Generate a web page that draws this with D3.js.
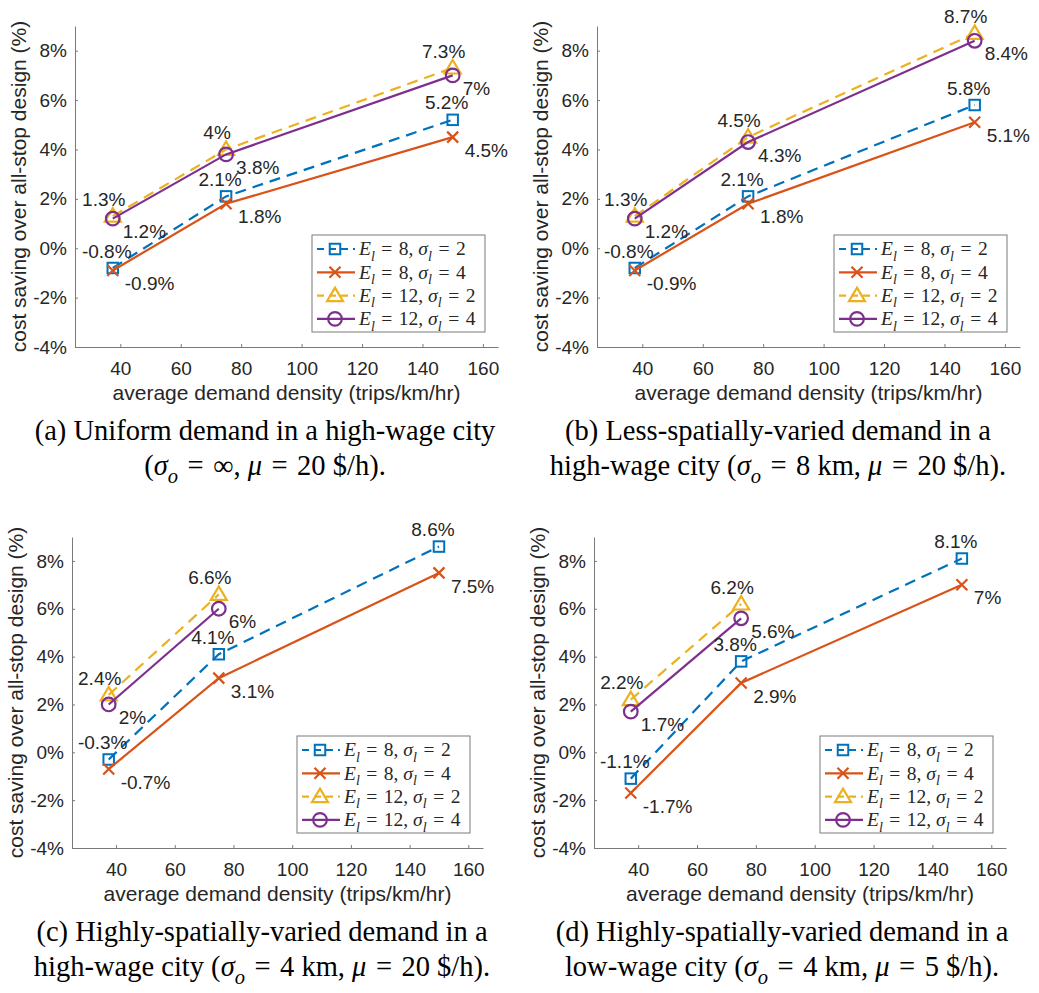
<!DOCTYPE html>
<meta charset="utf-8">
<style>
  body { margin:0; background:#fff; }
  .tick text, .lbl { fill:#262626; }
</style>
<svg width="1039" height="993"></svg>
<script src="https://cdn.jsdelivr.net/npm/d3@7"></script>
<script>

// demand density on the x axis (trips/km/hr)
var density = [37.5, 75, 150];
var xTicks = [40, 60, 80, 100, 120, 140, 160];
var yTicks = [-4, -2, 0, 2, 4, 6, 8];

// legend: E_l and sigma_l of each series
var legendE = [8, 8, 12, 12];
var legendSigma = [2, 4, 2, 4];

// cost saving (%) per series, one array per panel
var savingA = [[-0.8, 2.1, 5.2], [-0.9, 1.8, 4.5], [1.3, 4, 7.3], [1.2, 3.8, 7]];
var savingB = [[-0.8, 2.1, 5.8], [-0.9, 1.8, 5.1], [1.3, 4.5, 8.7], [1.2, 4.3, 8.4]];
var savingC = [[-0.3, 4.1, 8.6], [-0.7, 3.1, 7.5], [2.4, 6.6], [2, 6]];
var savingD = [[-1.1, 3.8, 8.1], [-1.7, 2.9, 7], [2.2, 6.2], [1.7, 5.6]];

var captionA = ["(a) Uniform demand in a high-wage city", "(σ_o = ∞, μ = 20 $/h)."];
var captionB = ["(b) Less-spatially-varied demand in a", "high-wage city (σ_o = 8 km, μ = 20 $/h)."];
var captionC = ["(c) Highly-spatially-varied demand in a", "high-wage city (σ_o = 4 km, μ = 20 $/h)."];
var captionD = ["(d) Highly-spatially-varied demand in a", "low-wage city (σ_o = 4 km, μ = 5 $/h)."];

var xTitle = "average demand density (trips/km/hr)";
var yTitle = "cost saving over all-stop design (%)";

var colors = ["#0072BD", "#D95319", "#EDB120", "#7E2F8E"];
var dashed = [true, false, true, false];
var markerType = ["square", "x", "triangle", "circle"];
var axisColor = "#7a7a7a";
var sans = "'Liberation Sans', Arial, sans-serif";
var serif = "'Liberation Serif', 'Times New Roman', serif";

var panels = [
  {data: savingA, caption: captionA, left: 75, right: 498, top: 26, bottom: 347, cx: 265, cy: 440},
  {data: savingB, caption: captionB, left: 597, right: 1020, top: 26, bottom: 347, cx: 778, cy: 440},
  {data: savingC, caption: captionC, left: 72, right: 483, top: 537, bottom: 848, cx: 262, cy: 941},
  {data: savingD, caption: captionD, left: 594, right: 1006, top: 537, bottom: 848, cx: 782, cy: 941}
];

var svg = d3.select("svg");

// text with italic letters and subscripts: "E_l", Greek letters
function richText(sel, str, size) {
  var re = /([A-Za-z\u03b1-\u03c9])_([a-z])|([\u03b1-\u03c9])/g;
  var last = 0, m, shift = 0, sub = size * 0.28;
  function plain(t) {
    var ts = sel.append("tspan").text(t);
    if (shift) { ts.attr("dy", -shift); shift = 0; }
  }
  while ((m = re.exec(str))) {
    if (m.index > last) plain(str.slice(last, m.index));
    if (m[1]) {
      var ts = sel.append("tspan").attr("font-style", "italic").text(m[1]);
      if (shift) { ts.attr("dy", -shift); shift = 0; }
      sel.append("tspan").attr("font-style", "italic").attr("font-size", size * 0.72)
        .attr("dy", sub).text(m[2]);
      shift = sub;
    } else {
      var tg = sel.append("tspan").attr("font-style", "italic").text(m[3]);
      if (shift) { tg.attr("dy", -shift); shift = 0; }
    }
    last = re.lastIndex;
  }
  if (last < str.length) plain(str.slice(last));
}

function drawMarker(g, type, x, y, color) {
  if (type == "square") {
    g.append("rect").attr("x", x - 5.25).attr("y", y - 5.25).attr("width", 10.5).attr("height", 10.5)
      .attr("fill", "none").attr("stroke", color).attr("stroke-width", 2);
  } else if (type == "x") {
    g.append("path").attr("d", "M" + (x - 5.5) + "," + (y - 5.5) + "L" + (x + 5.5) + "," + (y + 5.5) +
      "M" + (x - 5.5) + "," + (y + 5.5) + "L" + (x + 5.5) + "," + (y - 5.5))
      .attr("stroke", color).attr("stroke-width", 2.2);
  } else if (type == "triangle") {
    g.append("path").attr("d", "M" + x + "," + (y - 8) + "L" + (x + 8) + "," + (y + 5.5) + "L" + (x - 8) + "," + (y + 5.5) + "Z")
      .attr("fill", "none").attr("stroke", color).attr("stroke-width", 2.2);
  } else {
    g.append("circle").attr("cx", x).attr("cy", y).attr("r", 6.8)
      .attr("fill", "none").attr("stroke", color).attr("stroke-width", 2.2);
  }
}

panels.forEach(function(p) {
  var x = d3.scaleLinear().domain([25, 165]).range([p.left, p.right]);
  var y = d3.scaleLinear().domain([-4, 9]).range([p.bottom, p.top]);
  var g = svg.append("g");

  var xAxis = g.append("g").attr("transform", "translate(0," + p.bottom + ")")
    .call(d3.axisBottom(x).tickValues(xTicks).tickSizeInner(-3).tickSizeOuter(0).tickPadding(15));
  var yAxis = g.append("g").attr("transform", "translate(" + p.left + ",0)")
    .call(d3.axisLeft(y).tickValues(yTicks).tickSizeInner(-3).tickSizeOuter(0).tickPadding(8)
      .tickFormat(function(d) { return d + "%"; }));
  [xAxis, yAxis].forEach(function(a) {
    a.selectAll("path, line").attr("stroke", axisColor);
    a.selectAll("text").attr("font-family", sans).attr("font-size", 19);
  });

  g.append("text").attr("class", "lbl")
    .attr("x", (p.left + p.right) / 2).attr("y", p.bottom + 53)
    .attr("text-anchor", "middle").attr("font-family", sans).attr("font-size", 21)
    .text(xTitle);
  g.append("text").attr("class", "lbl")
    .attr("transform", "translate(" + (p.left - 49) + "," + ((p.top + p.bottom) / 2) + ")rotate(-90)")
    .attr("text-anchor", "middle").attr("font-family", sans).attr("font-size", 21)
    .text(yTitle);

  var line = d3.line().x(function(d, i) { return x(density[i]); }).y(function(d) { return y(d); });

  p.data.forEach(function(s, k) {
    g.append("path").datum(s).attr("d", line).attr("fill", "none")
      .attr("stroke", colors[k]).attr("stroke-width", 2.2)
      .attr("stroke-dasharray", dashed[k] ? "11,7" : null);
    s.forEach(function(v, i) { drawMarker(g, markerType[k], x(density[i]), y(v), colors[k]); });
  });

  // value labels: dashed series above-left, solid series below-right
  p.data.forEach(function(s, k) {
    s.forEach(function(v, i) {
      var above = dashed[k];
      g.append("text").attr("class", "lbl")
        .attr("x", x(density[i]) + (above ? (k == 0 ? -6 : -9) : (k == 1 ? 12 : 10)))
        .attr("y", y(v) + (above ? -17 : 13))
        .attr("dy", "0.35em")
        .attr("text-anchor", above ? "middle" : "start")
        .attr("font-family", sans).attr("font-size", 19)
        .text(v + "%");
    });
  });

  // legend, bottom right inside the axes
  var lw = 173, lh = 97;
  var leg = g.append("g").attr("transform", "translate(" + (p.right - 13 - lw) + "," + (p.bottom - 15 - lh) + ")");
  leg.append("rect").attr("width", lw).attr("height", lh).attr("fill", "#fff")
    .attr("stroke", axisColor).attr("stroke-width", 1);
  legendE.forEach(function(e, k) {
    var ry = 14 + k * 23.3;
    leg.append("line").attr("x1", 5).attr("x2", 43).attr("y1", ry).attr("y2", ry)
      .attr("stroke", colors[k]).attr("stroke-width", 2.2)
      .attr("stroke-dasharray", dashed[k] ? "7,5" : null);
    drawMarker(leg, markerType[k], 23, ry, colors[k]);
    var t = leg.append("text").attr("class", "lbl").attr("x", 47).attr("y", ry).attr("dy", "0.33em")
      .attr("font-family", serif).attr("font-size", 19.5);
    richText(t, ("E_l = " + e + ", σ_l = " + legendSigma[k]).replace(/ = /g, "\u2004=\u2004"), 19.5);
  });

  // caption below the panel
  p.caption.forEach(function(c, i) {
    var t = svg.append("text").attr("class", "lbl").attr("x", p.cx).attr("y", p.cy + i * 35)
      .attr("text-anchor", "middle").attr("font-family", serif).attr("font-size", 28.5)
      .style("fill", "#000");
    richText(t, i == 0 ? c : c.replace(/ = /g, "\u2004=\u2004"), 28.5);
  });
});

</script>
